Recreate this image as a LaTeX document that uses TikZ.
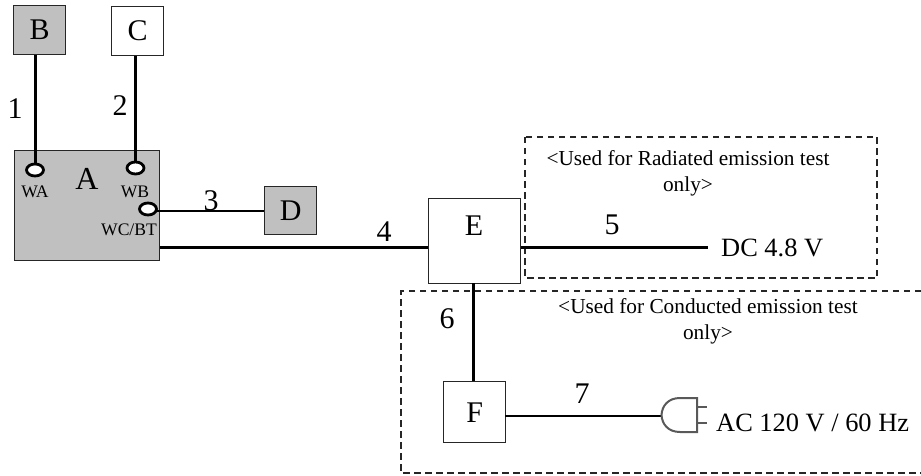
\documentclass[tikz,border=0pt]{standalone}
\usepackage{fontspec}
\setmainfont{Liberation Serif}
\usetikzlibrary{shapes.geometric}
\definecolor{boxgray}{RGB}{192,192,192}
\tikzset{
  x=1pt,y=-1pt,
  unit/.style={draw=black!85,line width=1.4pt,inner sep=0pt,anchor=north west},
  grayunit/.style={unit,fill=boxgray},
  whiteunit/.style={unit,fill=white},
  cable/.style={draw=black,line width=3pt},
  thincable/.style={draw=black,line width=2.8pt},
  port/.style={ellipse,draw=black,line width=2.8pt,fill=white,minimum width=17pt,minimum height=12pt,inner sep=0pt},
  dashbox/.style={draw=black!85,line width=1.5pt,dash pattern=on 6.5pt off 4.5pt},
  bigl/.style={inner sep=0pt,font=\fontsize{30}{30}\selectfont},
  num/.style={inner sep=0pt,font=\fontsize{30}{30}\selectfont},
  power/.style={inner sep=0pt,font=\fontsize{26.4}{28}\selectfont,anchor=west},
  note/.style={inner sep=0pt,font=\fontsize{21.3}{26}\selectfont,align=center},
  portl/.style={inner sep=0pt,font=\fontsize{17.6}{18}\selectfont},
  plug/.style={draw=black!65,line width=2pt}
}
\begin{document}
\begin{tikzpicture}
\useasboundingbox (0,0) rectangle (921,476);
\node[grayunit,minimum width=145pt,minimum height=110pt] (A) at (14,150) {};
\node[bigl,font=\fontsize{32}{32}\selectfont] (Alab) at (87,179) {A};
\node[grayunit,minimum width=52pt,minimum height=49pt] (B) at (13,5) {};
\node[bigl] at (B.center) {B};
\node[whiteunit,minimum width=52pt,minimum height=49pt] (C) at (111,6) {};
\node[bigl] at (C.center) {C};
\node[grayunit,minimum width=52pt,minimum height=48pt] (D) at (264,186) {};
\node[bigl] at (D.center) {D};
\node[whiteunit,minimum width=92pt,minimum height=85pt] (E) at (428,198) {};
\node[bigl] (Elab) at (474,226) {E};
\node[whiteunit,minimum width=62pt,minimum height=61pt] (F) at (443,381) {};
\node[bigl] at (F.center) {F};
\coordinate (WCout) at (150,211);
\draw[thincable] (WCout) -- (D.west |- WCout);
\node[port] (WA) at (35,170) {};
\node[port] (WB) at (135.5,168) {};
\node[port] (WC) at (148,209) {};
\node[portl] at (35,192) {WA};
\node[portl] at (135,192) {WB};
\node[portl] at (129,230) {WC/BT};
\coordinate (Aright) at (160,247);
\coordinate (Eleft) at (428,247);
\coordinate (Eright) at (521,247);
\coordinate (Dcend) at (708,247);
\coordinate (Fbottom) at (473,381);
\coordinate (Etop) at (473,283);
\coordinate (Fright) at (505,416);
\coordinate (Plugtip) at (661.5,416);
\draw[cable] (B.south -| WA) -- (WA.north);
\draw[cable] (C.south -| WB) -- (WB.north);
\draw[cable] (Aright) -- (Eleft);
\draw[dashbox] (525,137) rectangle (877,278);
\draw[dashbox] (921,291) -- (401,291) -- (401,473) -- (921,473);
\draw[cable] (Eright) -- (Dcend);
\draw[cable] (Etop) -- (Fbottom);
\draw[thincable] (Fright) -- (Plugtip);
\draw[plug] (697,398) -- (680,398) .. controls (668,398) and (662,406) .. (661.5,415) .. controls (662,424) and (668,432) .. (680,432) -- (697,432) -- cycle;
\draw[plug] (697,407) -- (707,407) (697,423) -- (707,423);
\node[num] at (15,109) {1};
\node[num] at (120,106) {2};
\node[num] at (211,201) {3};
\node[num] at (384,232) {4};
\node[num] at (612,225) {5};
\node[num] at (447,319) {6};
\node[num] at (582,394) {7};
\node[power] at (721,248) {DC 4.8 V};
\node[power] at (716,423) {AC 120 V / 60 Hz};
\node[note] at (688,173) {<Used for Radiated emission test\\only>};
\node[note] at (708,321) {<Used for Conducted emission test\\only>};
\end{tikzpicture}
\end{document}
